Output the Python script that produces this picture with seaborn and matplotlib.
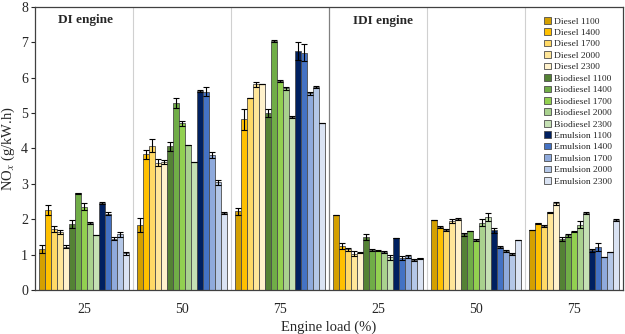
import pandas as pd
import seaborn as sns
import matplotlib.pyplot as plt

# engine / load groups
groups = ["DI 25", "DI 50", "DI 75", "IDI 25", "IDI 50", "IDI 75"]
tick_labels = ["25", "50", "75", "25", "50", "75"]

series = ["Diesel 1100", "Diesel 1400", "Diesel 1700", "Diesel 2000", "Diesel 2300",
          "Biodiesel 1100", "Biodiesel 1400", "Biodiesel 1700", "Biodiesel 2000", "Biodiesel 2300",
          "Emulsion 1100", "Emulsion 1400", "Emulsion 1700", "Emulsion 2000", "Emulsion 2300"]

colors = ["#D4A000", "#FFC000", "#FFD966", "#FFE699", "#FFF2CC",
          "#548235", "#70AD47", "#92D050", "#A9D18E", "#C5E0B4",
          "#002060", "#4472C4", "#8FAADC", "#B4C7E7", "#DAE3F3"]

# NOx values, one list per group (order follows series)
nox_di25 = [1.16, 2.26, 1.73, 1.63, 1.22, 1.86, 2.73, 2.35, 1.88, 1.56, 2.46, 2.16, 1.45, 1.57, 1.04]
nox_di50 = [1.84, 3.83, 4.08, 3.59, 3.61, 4.06, 5.29, 4.71, 4.11, 3.63, 5.62, 5.61, 3.81, 3.04, 2.17]
nox_di75 = [2.22, 4.82, 5.42, 5.81, 5.83, 5.01, 7.03, 5.92, 5.70, 4.90, 6.75, 6.71, 5.56, 5.74, 4.72]
nox_idi25 = [2.12, 1.24, 1.15, 1.02, 1.05, 1.49, 1.13, 1.11, 1.06, 0.92, 1.47, 0.91, 0.95, 0.85, 0.89]
nox_idi50 = [1.97, 1.79, 1.70, 1.94, 2.01, 1.57, 1.67, 1.41, 1.90, 2.06, 1.69, 1.21, 1.10, 1.01, 1.40]
nox_idi75 = [1.69, 1.88, 1.81, 2.19, 2.45, 1.45, 1.54, 1.65, 1.84, 2.18, 1.12, 1.21, 0.93, 1.08, 1.98]

err_di25 = [0.12, 0.15, 0.08, 0.06, 0.04, 0.12, 0.02, 0.10, 0.03, 0.0, 0.02, 0.05, 0.05, 0.08, 0.04]
err_di50 = [0.20, 0.12, 0.18, 0.10, 0.05, 0.12, 0.15, 0.08, 0.0, 0.0, 0.02, 0.12, 0.08, 0.08, 0.02]
err_di75 = [0.10, 0.30, 0.0, 0.08, 0.0, 0.12, 0.03, 0.03, 0.05, 0.03, 0.25, 0.25, 0.04, 0.03, 0.0]
err_idi25 = [0.0, 0.08, 0.04, 0.07, 0.02, 0.08, 0.02, 0.02, 0.03, 0.06, 0.0, 0.06, 0.04, 0.03, 0.01]
err_idi50 = [0.0, 0.03, 0.02, 0.06, 0.02, 0.05, 0.0, 0.02, 0.10, 0.12, 0.07, 0.02, 0.02, 0.02, 0.0]
err_idi75 = [0.0, 0.02, 0.03, 0.02, 0.04, 0.06, 0.03, 0.02, 0.10, 0.02, 0.04, 0.12, 0.0, 0.0, 0.03]

values = [nox_di25, nox_di50, nox_di75, nox_idi25, nox_idi50, nox_idi75]
errors = [err_di25, err_di50, err_di75, err_idi25, err_idi50, err_idi75]

rows = []
for g, vals, errs in zip(groups, values, errors):
    for s, v, e in zip(series, vals, errs):
        rows.append({"group": g, "series": s, "nox": v, "err": e})
df = pd.DataFrame(rows)

sns.set_style("white")
plt.rcParams['font.family'] = ['Liberation Serif', 'DejaVu Serif']
plt.rcParams['mathtext.fontset'] = 'stix'

fig = plt.figure(figsize=(6.25, 3.34), dpi=100)
ax = fig.add_axes([0.056, 0.132, 0.941, 0.847])

sns.barplot(data=df, x="group", y="nox", hue="series", order=groups, hue_order=series,
            palette=colors, saturation=1, width=0.92, errorbar=None,
            edgecolor="#4d4d4d", linewidth=0.6, ax=ax)

# error bars at bar centres
for i, s in enumerate(series):
    cont = ax.containers[i]
    sub = df[df["series"] == s].set_index("group").loc[groups]
    xs = [p.get_x() + p.get_width() / 2 for p in cont.patches]
    ax.errorbar(xs, sub["nox"], yerr=sub["err"], fmt="none", ecolor="black",
                elinewidth=0.8, capsize=2, capthick=0.8)

# group separators
for xv in [0.5, 1.5, 3.5, 4.5]:
    ax.axvline(xv, color="#d0d0d0", lw=0.8, zorder=0)
ax.axvline(2.5, color="#808080", lw=0.9, zorder=0)

ax.set_ylim(0, 8)
ax.set_xlim(-0.5, 5.5)
ax.set_xticks(range(6))
ax.set_xticklabels(tick_labels, fontsize=10)
ax.tick_params(axis="y", labelsize=10, left=True, length=3, pad=2)
ax.tick_params(axis="x", bottom=False, pad=6)
ax.set_xlabel("Engine load (%)", fontsize=10.5, labelpad=3)
ax.set_ylabel("NO$_x$ (g/kW.h)", fontsize=10.5, labelpad=3)
for sp in ax.spines.values():
    sp.set_color("#404040")
    sp.set_linewidth(0.9)

ax.text(0.02, 7.63, "DI engine", fontsize=9.5, fontweight="bold", ha="center", va="center")
ax.text(3.05, 7.6, "IDI engine", fontsize=9.5, fontweight="bold", ha="center", va="center")

ax.legend(loc="upper right", bbox_to_anchor=(0.99, 0.985), frameon=False, fontsize=6.8,
          handlelength=0.7, handleheight=0.7, handletextpad=0.3, labelspacing=0.3,
          borderaxespad=0.2)

plt.savefig("out.png", dpi=100)
